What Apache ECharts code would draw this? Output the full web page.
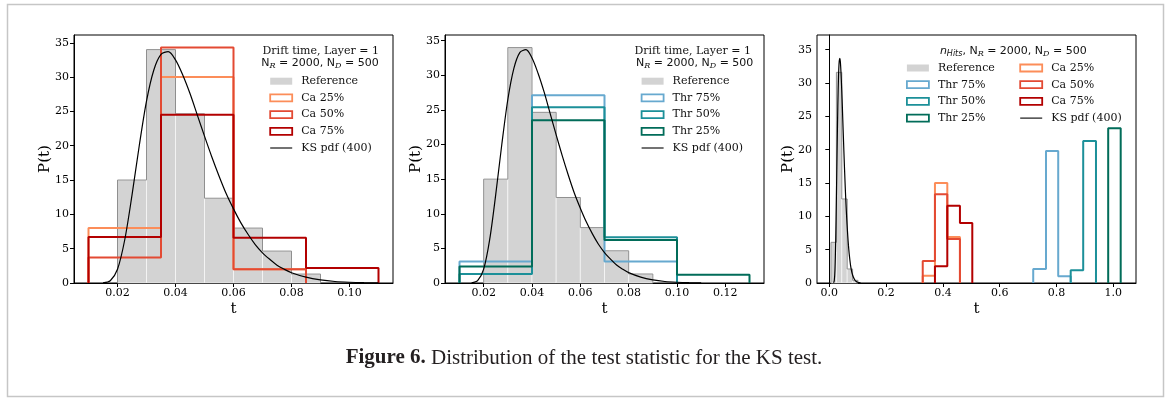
<!DOCTYPE html>
<html>
<head>
<meta charset="utf-8">
<script src="https://cdn.jsdelivr.net/npm/echarts@6/dist/echarts.min.js"></script>
<style>
html, body { margin: 0; padding: 0; background: #fff; }
#ks_chart { width: 1167px; height: 399px; }
</style>
</head>
<body>
<div id="ks_chart"></div>
<script>
// reference histogram, drift time layer 1 (panels 1 and 2)
var refEdges = [0.02, 0.03, 0.04, 0.05, 0.06, 0.07, 0.08, 0.09];
var refHeights = [15.0, 34.0, 24.65, 12.35, 8.0, 4.65, 1.3];

// panel 1, Ca
var caEdges = [0.01, 0.035, 0.06, 0.085, 0.11];
var ca25 = [8.0, 30.0, 2.0, 0];
var ca50 = [3.7, 34.3, 2.0, 0];
var ca75 = [6.7, 24.5, 6.6, 2.2];

// panel 2, Thr
var thrEdges = [0.01, 0.04, 0.07, 0.10, 0.13];
var thr75 = [3.1, 27.1, 3.1, 0];
var thr50 = [1.3, 25.4, 6.6, 0];
var thr25 = [2.4, 23.5, 6.2, 1.2];

// panel 3, nHits
var hitsRefEdges = [0.006, 0.025, 0.044, 0.063, 0.082, 0.101];
var hitsRef = [6.1, 31.6, 12.6, 2.1, 0.4];
var hitsCaEdges = [0.329, 0.372, 0.4155, 0.46];
var hitsCa25 = [1.1, 15.0, 6.9];
var hitsCa50 = [3.3, 13.3, 6.6];
var hitsCa75Edges = [0.372, 0.4155, 0.46, 0.5035];
var hitsCa75 = [2.5, 11.6, 9.0];
var hitsThr75Edges = [0.718, 0.763, 0.806, 0.850];
var hitsThr75 = [2.1, 19.8, 1.0];
var hitsThr50Edges = [0.850, 0.894, 0.939];
var hitsThr50 = [1.9, 21.3];
var hitsThr25Edges = [0.982, 1.026];
var hitsThr25 = [23.2];

// KS pdf (400)
var ksT = [0.015, 0.0175, 0.020, 0.0225, 0.025, 0.0275, 0.030, 0.0325, 0.035, 0.0375,
           0.040, 0.0425, 0.045, 0.0475, 0.050, 0.0525, 0.055, 0.0575, 0.060, 0.0625,
           0.065, 0.0675, 0.070, 0.0725, 0.075, 0.0775, 0.080, 0.085, 0.090, 0.095,
           0.100, 0.105, 0.110];
var ksP = [0.02, 0.33, 2.0, 6.3, 12.8, 20.0, 26.5, 31.0, 33.3, 33.7,
           32.5, 30.3, 27.6, 24.5, 21.4, 18.4, 15.6, 13.0, 10.8, 8.8,
           7.1, 5.6, 4.4, 3.45, 2.6, 2.0, 1.5, 0.85, 0.45, 0.22,
           0.11, 0.05, 0.02];

var xTicksA = [0.02, 0.04, 0.06, 0.08, 0.10];
var xTicksB = [0.02, 0.04, 0.06, 0.08, 0.10, 0.12];
var xTicksC = [0.0, 0.2, 0.4, 0.6, 0.8, 1.0];
var yTicks = [0, 5, 10, 15, 20, 25, 30, 35];

var caColors = ['#fc8d59', '#e34a33', '#b30000'];
var thrColors = ['#67a9cf', '#1c9099', '#016c59'];

var serif = 'DejaVu Serif';

function stepData(edges, h) {
	var n = h.length;
	while (n > 0 && h[n - 1] === 0) n--;
	var pts = [[edges[0], 0]];
	for (var i = 0; i < n; i++) {
		pts.push([edges[i], h[i]]);
		pts.push([edges[i + 1], h[i]]);
	}
	pts.push([edges[n], 0]);
	return pts;
}

function refBars(idx, edges, h) {
	return {
		name: 'Reference',
		type: 'custom',
		xAxisIndex: idx, yAxisIndex: idx,
		itemStyle: { color: '#d3d3d3' },
		silent: true,
		data: h.map(function (v, i) { return [edges[i], edges[i + 1], v]; }),
		encode: { x: [0, 1], y: 2 },
		renderItem: function (params, api) {
			var p0 = api.coord([api.value(0), 0]);
			var p1 = api.coord([api.value(1), api.value(2)]);
			return {
				type: 'rect',
				shape: { x: p0[0], y: p1[1], width: p1[0] - p0[0], height: p0[1] - p1[1] },
				style: { fill: '#d3d3d3', stroke: 'rgba(255,255,255,0.7)', lineWidth: 0.8 }
			};
		}
	};
}

function lineSeries(idx, name, pts, color, width) {
	return {
		name: name,
		type: 'line',
		xAxisIndex: idx, yAxisIndex: idx,
		data: pts,
		symbol: 'none',
		showSymbol: false,
		silent: true,
		animation: false,
		lineStyle: { color: color, width: width },
		itemStyle: { color: color }
	};
}

function ksSeries(idx) {
	var s = lineSeries(idx, 'KS pdf (400)', ksT.map(function (t, i) { return [t, ksP[i]]; }), '#000', 1.2);
	s.smooth = 0.3;
	return s;
}

function xAxisFor(idx, min, max, ticks, digits) {
	return {
		type: 'value', gridIndex: idx, min: min, max: max,
		name: 't', nameLocation: 'middle', nameGap: 19, nameMoveOverlap: false,
		nameTextStyle: { fontFamily: serif, fontSize: 15, color: '#000' },
		axisLine: { show: true, lineStyle: { color: '#000', width: 1 } },
		axisTick: { show: true, inside: false, length: 4, customValues: ticks, lineStyle: { color: '#000' } },
		axisLabel: {
			customValues: ticks, margin: 5,
			fontFamily: serif, fontSize: 11, color: '#000',
			formatter: function (v) { return v.toFixed(digits); }
		},
		splitLine: { show: false }
	};
}

function yAxisFor(idx, max) {
	return {
		type: 'value', gridIndex: idx, min: 0, max: max,
		name: 'P(t)', nameLocation: 'middle', nameGap: 21, nameMoveOverlap: false,
		nameTextStyle: { fontFamily: serif, fontSize: 15, color: '#000' },
		axisLine: { show: true, lineStyle: { color: '#000', width: 1 } },
		axisTick: { show: true, inside: false, length: 4, customValues: yTicks, lineStyle: { color: '#000' } },
		axisLabel: { customValues: yTicks, margin: 5, fontFamily: serif, fontSize: 11, color: '#000' },
		splitLine: { show: false }
	};
}

function patch(name, color) {
	return { name: name, icon: 'rect', itemStyle: { color: 'rgba(0,0,0,0)', borderColor: color, borderWidth: 1.8, opacity: 1 } };
}
var refItem = { name: 'Reference', icon: 'rect', itemStyle: { color: '#d3d3d3', borderWidth: 0 } };
var ksItem = { name: 'KS pdf (400)', icon: 'path://M0 0H20V1H0Z', itemStyle: { color: '#000', borderWidth: 0 } };

function legendAt(left, top, items) {
	return {
		orient: 'vertical', left: left, top: top, padding: 0,
		itemWidth: 22, itemHeight: 7, itemGap: 4.7,
		selectedMode: false,
		textStyle: { fontFamily: serif, fontSize: 11, color: '#111', lineHeight: 12, padding: [0, 0, 0, 4] },
		data: items
	};
}

var subR = { fontFamily: serif, fontStyle: 'italic', fontSize: 8, padding: [6, 0, 0, 0] };
var sansStyle = { fontFamily: 'DejaVu Sans', fontSize: 11 };
var serifStyle = { fontFamily: serif, fontSize: 11 };

function nLine(prefix) {
	return prefix + '{s|N}{sub|R}{s| = 2000, N}{sub|D}{s| = 500}';
}

function label(x, y, text) {
	return {
		type: 'text', silent: true,
		style: {
			x: x, y: y, text: text, align: 'center', verticalAlign: 'middle',
			fill: '#111', fontFamily: serif, fontSize: 11,
			rich: { s: sansStyle, r: serifStyle, sub: subR, n: { fontFamily: 'DejaVu Sans', fontStyle: 'italic', fontSize: 11 },
				hs: { fontFamily: 'DejaVu Sans', fontStyle: 'italic', fontSize: 8, padding: [6, 0, 0, 0] } }
		}
	};
}

var myKsChart = echarts.init(document.getElementById('ks_chart'));

var option = {
	backgroundColor: '#fff',
	animation: false,
	grid: [
		{ left: 74, top: 35, width: 319, height: 248, show: true, borderColor: '#000', borderWidth: 1, backgroundColor: 'transparent', outerBoundsMode: 'none' },
		{ left: 445, top: 35, width: 319, height: 248, show: true, borderColor: '#000', borderWidth: 1, backgroundColor: 'transparent', outerBoundsMode: 'none' },
		{ left: 817, top: 35, width: 319, height: 248, show: true, borderColor: '#000', borderWidth: 1, backgroundColor: 'transparent', outerBoundsMode: 'none' }
	],
	xAxis: [
		xAxisFor(0, 0.005, 0.115, xTicksA, 2),
		xAxisFor(1, 0.004, 0.136, xTicksB, 2),
		xAxisFor(2, -0.0433, 1.0799, xTicksC, 1)
	],
	yAxis: [yAxisFor(0, 36.13), yAxisFor(1, 35.82), yAxisFor(2, 37.2)],
	legend: [
		legendAt(269.3, 75.2, [refItem, patch('Ca 25%', caColors[0]), patch('Ca 50%', caColors[1]), patch('Ca 75%', caColors[2]), ksItem]),
		legendAt(640.7, 75.2, [refItem, patch('Thr 75%', thrColors[0]), patch('Thr 50%', thrColors[1]), patch('Thr 25%', thrColors[2]), ksItem]),
		legendAt(906, 62, [refItem, patch('Thr 75%', thrColors[0]), patch('Thr 50%', thrColors[1]), patch('Thr 25%', thrColors[2])]),
		legendAt(1019.3, 62, [patch('Ca 25%', caColors[0]), patch('Ca 50%', caColors[1]), patch('Ca 75%', caColors[2]), ksItem])
	],
	graphic: [
		{ type: 'rect', silent: true, z: -10, shape: { x: 7.5, y: 4.5, width: 1156, height: 392 },
		  style: { fill: 'none', stroke: '#c6c6c6', lineWidth: 1.5 } },
		label(320.8, 50.7, '{r|Drift time, Layer = 1}'),
		label(320, 63.3, nLine('')),
		label(692.7, 50.7, '{r|Drift time, Layer = 1}'),
		label(694.7, 63.3, nLine('')),
		label(1013.3, 50.7, nLine('{n|n}{hs|Hits}{s|, }')),
		{ type: 'text', silent: true,
		  style: { x: 584, y: 358, align: 'center', verticalAlign: 'middle',
		    text: '{b|Figure 6.} Distribution of the test statistic for the KS test.',
		    fill: '#231f20', fontFamily: 'Liberation Serif', fontSize: 21,
		    rich: { b: { fontFamily: 'Liberation Serif', fontSize: 21, fontWeight: 'bold', fill: '#231f20' } } } }
	],
	series: [
		// panel 1
		refBars(0, refEdges, refHeights),
		lineSeries(0, 'ref outline', stepData(refEdges, refHeights), '#8f8f8f', 1),
		lineSeries(0, 'Ca 25%', stepData(caEdges, ca25), caColors[0], 2),
		lineSeries(0, 'Ca 50%', stepData(caEdges, ca50), caColors[1], 2),
		lineSeries(0, 'Ca 75%', stepData(caEdges, ca75), caColors[2], 2),
		ksSeries(0),
		// panel 2
		refBars(1, refEdges, refHeights),
		lineSeries(1, 'ref outline', stepData(refEdges, refHeights), '#8f8f8f', 1),
		lineSeries(1, 'Thr 75%', stepData(thrEdges, thr75), thrColors[0], 2),
		lineSeries(1, 'Thr 50%', stepData(thrEdges, thr50), thrColors[1], 2),
		lineSeries(1, 'Thr 25%', stepData(thrEdges, thr25), thrColors[2], 2),
		ksSeries(1),
		// panel 3
		refBars(2, hitsRefEdges, hitsRef),
		lineSeries(2, 'ref outline', stepData(hitsRefEdges, hitsRef), '#8f8f8f', 1),
		lineSeries(2, 'Thr 75%', stepData(hitsThr75Edges, hitsThr75), thrColors[0], 2),
		lineSeries(2, 'Thr 50%', stepData(hitsThr50Edges, hitsThr50), thrColors[1], 2),
		lineSeries(2, 'Thr 25%', stepData(hitsThr25Edges, hitsThr25), thrColors[2], 2),
		lineSeries(2, 'Ca 25%', stepData(hitsCaEdges, hitsCa25), caColors[0], 2),
		lineSeries(2, 'Ca 50%', stepData(hitsCaEdges, hitsCa50), caColors[1], 2),
		lineSeries(2, 'Ca 75%', stepData(hitsCa75Edges, hitsCa75), caColors[2], 2),
		ksSeries(2)
	]
};

myKsChart.setOption(option);
</script>
</body>
</html>
